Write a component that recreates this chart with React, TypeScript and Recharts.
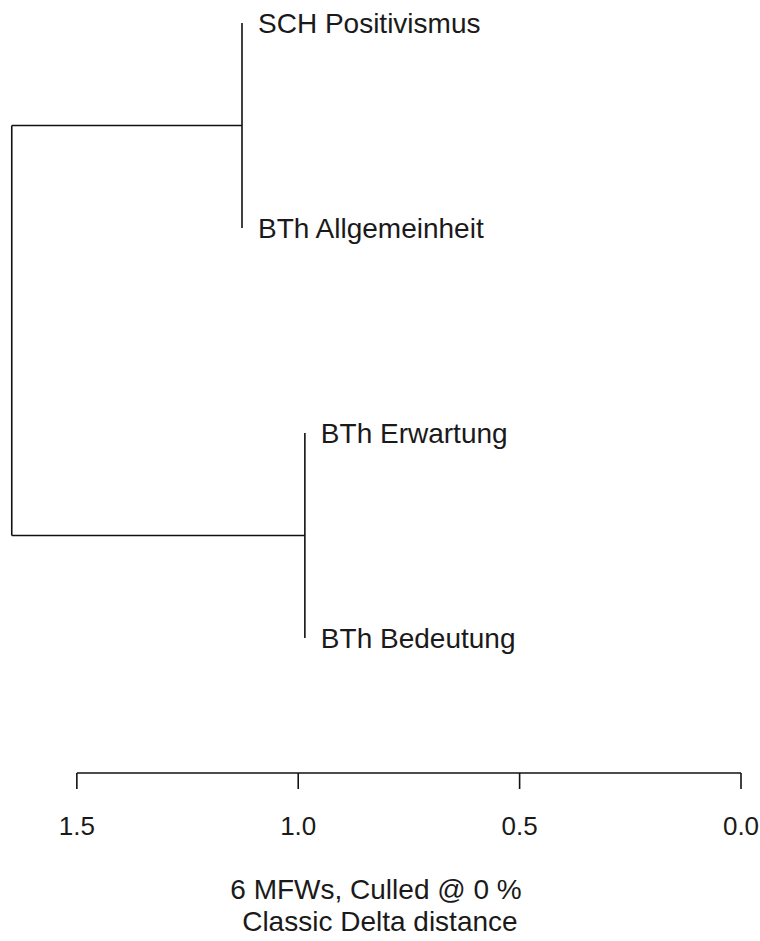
import { ComposedChart, Scatter, XAxis, YAxis, ReferenceLine } from "recharts";

// leaves, top to bottom
const leafNames = ["SCH Positivismus", "BTh Allgemeinheit", "BTh Erwartung", "BTh Bedeutung"];
// each cluster joins two leaves (by index) at a given distance
const clusterLeft = [0, 2];
const clusterRight = [1, 3];
const clusterHeights = [1.127, 0.985];
const rootHeight = 1.647;

const xTicks = [0, 0.5, 1.0, 1.5];
const captionLines = ["6 MFWs, Culled @ 0 %", " Classic Delta distance"];

const FONT = "Arial, 'Liberation Sans', sans-serif";
const Y_MIN = 0.951;
const Y_MAX = 4.6585;

const leafY = (i: number) => i + 1;

const leafData = leafNames.map((name, i) => {
  const c = clusterLeft.indexOf(i) >= 0 ? clusterLeft.indexOf(i) : clusterRight.indexOf(i);
  return { x: clusterHeights[c], y: leafY(i), name };
});

const clusterMid = clusterLeft.map((l, k) => (leafY(l) + leafY(clusterRight[k])) / 2);

const LeafLabel = (props: any) => {
  const { cx, cy, payload } = props;
  return (
    <text x={cx + 16} y={cy} dominantBaseline="central" fontSize={28} fontFamily={FONT} fill="#1a1a1a">
      {payload.name}
    </text>
  );
};

const Caption = () => (
  <g>
    {captionLines.map((line, i) => (
      <text
        key={i}
        x={376}
        y={889 + i * 32}
        textAnchor="middle"
        dominantBaseline="central"
        fontSize={28}
        fontFamily={FONT}
        fill="#1a1a1a"
        style={{ whiteSpace: "pre" }}
      >
        {line}
      </text>
    ))}
  </g>
);

export default function App() {
  const line = { stroke: "#111", strokeWidth: 1.6, ifOverflow: "visible" as const };
  return (
    <div style={{ position: "absolute", left: 0, top: 0, background: "#fff" }}>
      <ComposedChart width={760} height={941} margin={{ top: 13, right: 19, left: 6, bottom: 8 }}>
        <XAxis
          type="number"
          dataKey="x"
          domain={[0, 1.66]}
          reversed
          ticks={xTicks}
          tickFormatter={(v: number) => v.toFixed(1)}
          axisLine={false}
          tickSize={16}
          tickMargin={28}
          tickLine={{ stroke: "#111", strokeWidth: 1.6 }}
          tick={{ fill: "#1a1a1a", fontSize: 26, fontFamily: FONT }}
          height={160}
          allowDataOverflow
          label={{ content: <Caption /> }}
        />
        <YAxis type="number" dataKey="y" domain={[Y_MIN, Y_MAX]} reversed hide allowDataOverflow />

        {/* axis baseline only spans the tick range */}
        <ReferenceLine segment={[{ x: xTicks[xTicks.length - 1], y: Y_MAX }, { x: xTicks[0], y: Y_MAX }]} {...line} />

        {clusterHeights.map((h, k) => (
          <ReferenceLine
            key={`v${k}`}
            segment={[{ x: h, y: leafY(clusterLeft[k]) }, { x: h, y: leafY(clusterRight[k]) }]}
            {...line}
          />
        ))}
        {clusterHeights.map((h, k) => (
          <ReferenceLine
            key={`h${k}`}
            segment={[{ x: h, y: clusterMid[k] }, { x: rootHeight, y: clusterMid[k] }]}
            {...line}
          />
        ))}
        <ReferenceLine segment={[{ x: rootHeight, y: clusterMid[0] }, { x: rootHeight, y: clusterMid[1] }]} {...line} />

        <Scatter data={leafData} dataKey="y" shape={<LeafLabel />} isAnimationActive={false} />
      </ComposedChart>
    </div>
  );
}
